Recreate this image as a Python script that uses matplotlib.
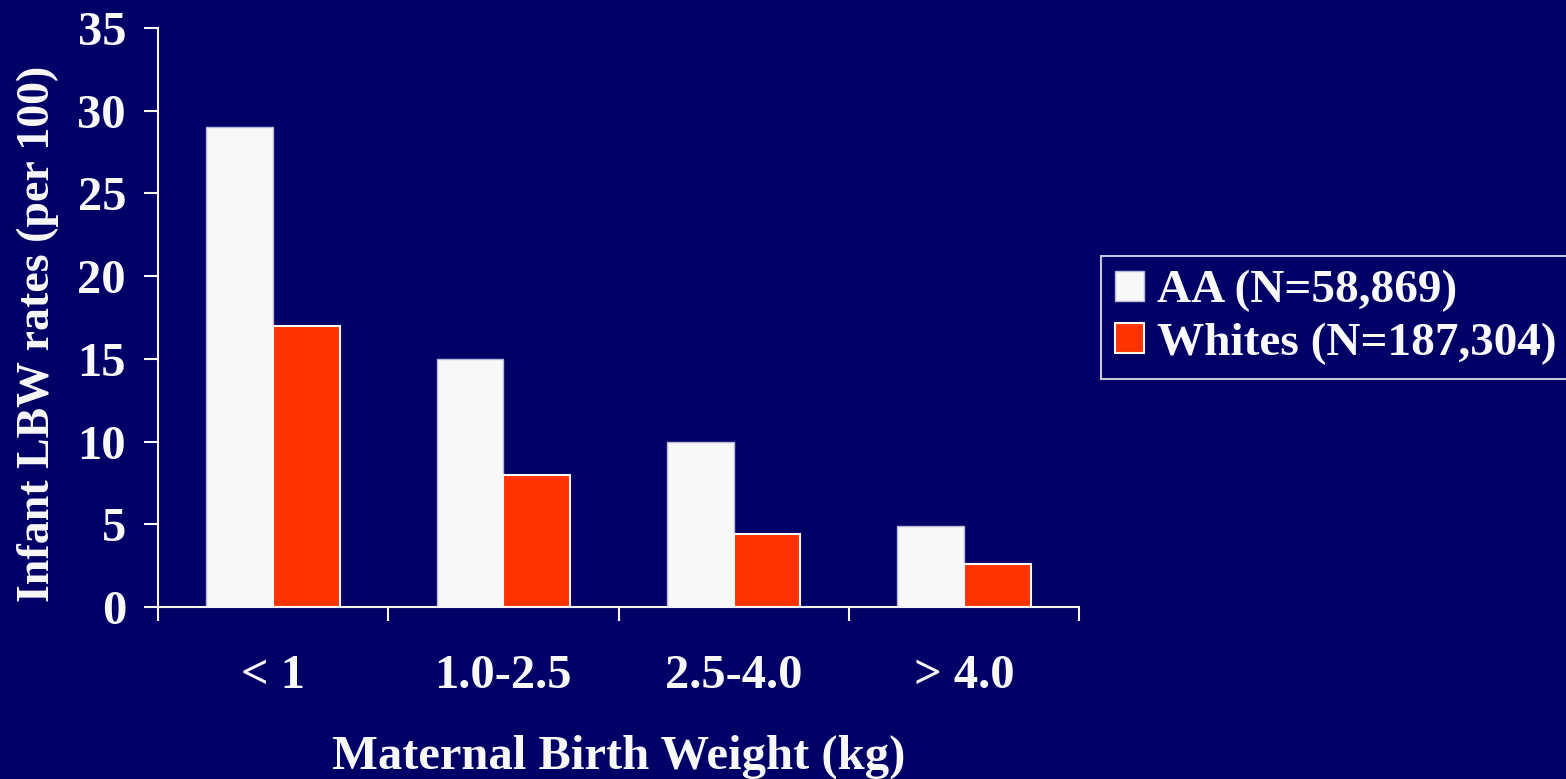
import matplotlib.pyplot as plt
import numpy as np

categories = ['< 1', '1.0-2.5', '2.5-4.0', '> 4.0']
aa_rates = [29, 15, 10, 4.9]
white_rates = [17, 8, 4.4, 2.6]
series_labels = ['AA (N=58,869)', 'Whites (N=187,304)']

bg = '#000066'
fg = '#F8F8F8'
red = '#FF3300'

plt.rcParams['font.family'] = ['Liberation Serif', 'DejaVu Serif']
plt.rcParams['font.weight'] = 'bold'

fig = plt.figure(figsize=(15.66, 7.79), dpi=100, facecolor=bg)
ax = fig.add_axes([158 / 1566, 1 - 607 / 779, (1079 - 158) / 1566, (607 - 28) / 779])
ax.set_facecolor(bg)

x = np.arange(len(categories))
w = 0.29
ax.bar(x - w / 2, aa_rates, w, color=fg, edgecolor='#B8B8D8', linewidth=1, label=series_labels[0])
ax.bar(x + w / 2, white_rates, w, color=red, edgecolor=fg, linewidth=1.5, label=series_labels[1])

ax.set_xlim(-0.5, len(categories) - 0.5)
ax.set_ylim(0, 35)
ax.set_yticks(range(0, 36, 5))
ax.set_xticks(x)
ax.set_xticklabels(categories)
ax.set_xticks(np.arange(len(categories) + 1) - 0.5, minor=True)

for side in ['top', 'right']:
    ax.spines[side].set_visible(False)
for side in ['left', 'bottom']:
    ax.spines[side].set_color(fg)
    ax.spines[side].set_linewidth(1.5)

ax.tick_params(axis='y', colors=fg, labelsize=35, length=10, width=1.5, pad=13)
ax.tick_params(axis='x', which='major', colors=fg, labelsize=35, length=0, pad=34)
ax.tick_params(axis='x', which='minor', colors=fg, length=10, width=1.5)

ax.set_xlabel('Maternal Birth Weight (kg)', color=fg, fontsize=35, fontweight='bold', labelpad=26)
ax.set_ylabel('Infant LBW rates (per 100)', color=fg, fontsize=33, fontweight='bold')
ax.yaxis.set_label_coords(-0.108, 0.4715)

leg = fig.legend(loc='center left', bbox_to_anchor=(1101 / 1566, 1 - 317.5 / 779),
                 fontsize=34, frameon=True, fancybox=False, facecolor=bg, edgecolor=fg,
                 handlelength=0.6, handleheight=0.6, handletextpad=0.28, borderpad=0.3,
                 labelspacing=0.22, borderaxespad=0)
leg.get_frame().set_linewidth(1.5)
for t in leg.get_texts():
    t.set_color(fg)

fig.savefig('out.png', dpi=100, facecolor=bg)
